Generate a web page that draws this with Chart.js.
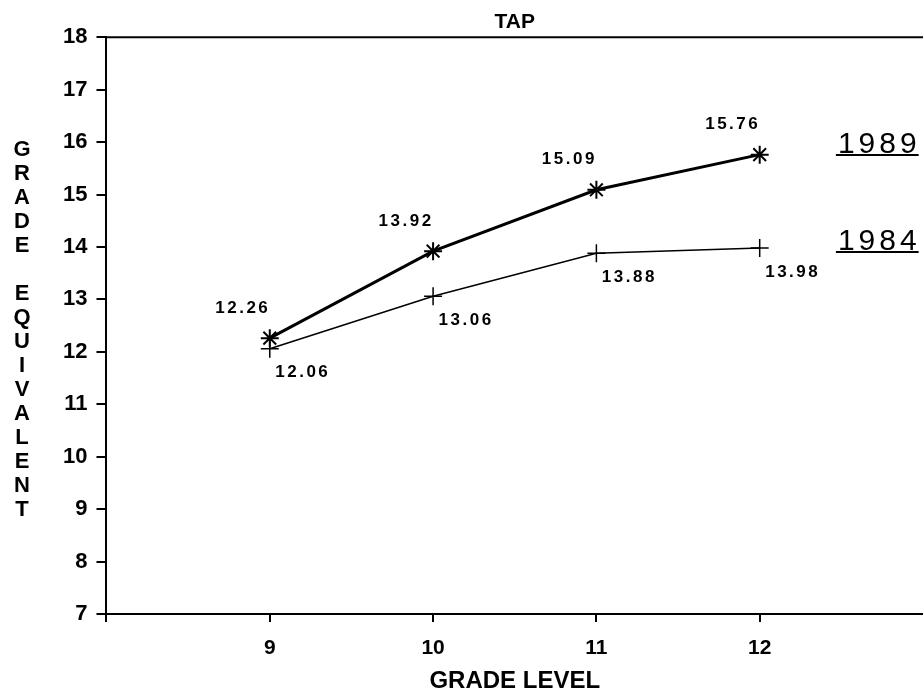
<!DOCTYPE html>
<html>
<head>
    <title>TAP</title>
    <meta charset="utf-8">
    <script src="https://cdn.jsdelivr.net/npm/chart.js@4/dist/chart.umd.min.js"></script>
    <style>
      body { margin: 0; background: #fff; overflow: hidden; }
      .chart-container { position: relative; width: 923px; height: 696px; }
    </style>
</head>
<body>
    <div class="chart-container">
        <canvas id="chart"></canvas>
    </div>

    <script>
        const grades = [9, 10, 11, 12];
        const axisTicks = [8, 9, 10, 11, 12];
        const scores1989 = [12.26, 13.92, 15.09, 15.76];
        const scores1984 = [12.06, 13.06, 13.88, 13.98];
        const yTitle = 'GRADE EQUIVALENT';

        const FONT = '"Liberation Sans", Arial, sans-serif';

        // value labels next to each point
        const pointLabels = {
            id: 'pointLabels',
            afterDatasetsDraw(chart) {
                const ctx = chart.ctx;
                ctx.save();
                ctx.fillStyle = '#000';
                ctx.font = 'bold 17px ' + FONT;
                ctx.letterSpacing = '2.5px';
                ctx.textAlign = 'center';
                ctx.textBaseline = 'middle';
                chart.data.datasets.forEach((ds, i) => {
                    const off = ds.labelOffset;
                    chart.getDatasetMeta(i).data.forEach((pt, j) => {
                        ctx.fillText(ds.data[j].y.toFixed(2), pt.x + off[0], pt.y + off[1]);
                    });
                });
                ctx.restore();
            }
        };

        // underlined series names at the right
        const sideLegend = {
            id: 'sideLegend',
            afterDraw(chart, args, opts) {
                const ctx = chart.ctx;
                const x = chart.scales.x.getPixelForValue(opts.at);
                ctx.save();
                ctx.fillStyle = '#000';
                ctx.strokeStyle = '#000';
                ctx.lineWidth = 2;
                ctx.font = '30px ' + FONT;
                ctx.letterSpacing = '4px';
                ctx.textAlign = 'center';
                ctx.textBaseline = 'alphabetic';
                chart.data.datasets.forEach((ds, i) => {
                    const y = chart.scales.y.getPixelForValue(opts.levels[i]);
                    ctx.fillText(ds.label, x + 2, y + 11);
                    const w = ctx.measureText(ds.label).width;
                    ctx.beginPath();
                    ctx.moveTo(x - w / 2, y + 13);
                    ctx.lineTo(x + w / 2, y + 13);
                    ctx.stroke();
                });
                ctx.restore();
            }
        };

        // stacked vertical y title and top frame line
        const frame = {
            id: 'frame',
            afterDraw(chart) {
                const ctx = chart.ctx;
                const area = chart.chartArea;
                ctx.save();
                ctx.strokeStyle = '#000';
                ctx.lineWidth = 2;
                ctx.beginPath();
                ctx.moveTo(area.left, area.top);
                ctx.lineTo(area.right, area.top);
                ctx.stroke();

                ctx.fillStyle = '#000';
                ctx.font = 'bold 22px ' + FONT;
                ctx.textAlign = 'center';
                ctx.textBaseline = 'middle';
                const step = 24;
                const mid = (area.top + area.bottom) / 2 + 4;
                const start = mid - step * (yTitle.length - 1) / 2;
                for (let i = 0; i < yTitle.length; i++) {
                    ctx.fillText(yTitle[i], 22, start + i * step);
                }
                ctx.restore();
            }
        };

        let ctx = document.getElementById('chart').getContext('2d');
        let chart = new Chart(ctx, {
            type: 'line',
            data: {
                datasets: [{
                    label: '1989',
                    data: grades.map((g, i) => ({x: g, y: scores1989[i]})),
                    borderColor: 'black',
                    backgroundColor: 'black',
                    borderWidth: 3,
                    pointStyle: 'star',
                    pointRadius: 9,
                    pointBorderWidth: 2,
                    labelOffset: [-27, -30],
                    tension: 0
                }, {
                    label: '1984',
                    data: grades.map((g, i) => ({x: g, y: scores1984[i]})),
                    borderColor: 'black',
                    backgroundColor: 'black',
                    borderWidth: 1.5,
                    pointStyle: 'cross',
                    pointRadius: 9,
                    pointBorderWidth: 1.5,
                    labelOffset: [33, 24],
                    tension: 0
                }]
            },
            options: {
                responsive: true,
                maintainAspectRatio: false,
                animation: false,
                layout: { autoPadding: false, padding: { left: 54, right: 0, top: 0, bottom: 0 } },
                plugins: {
                    legend: { display: false },
                    tooltip: { enabled: false },
                    title: {
                        display: true,
                        fullSize: false,
                        text: 'TAP',
                        color: '#000',
                        font: { family: FONT, size: 21, weight: 'bold' },
                        padding: { top: 10, bottom: 2 }
                    },
                    sideLegend: { at: 12.72, levels: [16.0, 14.15] }
                },
                scales: {
                    x: {
                        type: 'linear',
                        min: 8,
                        max: 13,
                        afterBuildTicks: scale => {
                            scale.ticks = axisTicks.map(v => ({value: v}));
                        },
                        afterFit: scale => {
                            scale.paddingLeft = 0;
                            scale.paddingRight = 0;
                        },
                        ticks: {
                            color: '#000',
                            padding: 14,
                            font: { family: FONT, size: 21, weight: 'bold' },
                            callback: v => grades.includes(v) ? String(v) : ''
                        },
                        grid: { drawOnChartArea: false, tickLength: 8, color: '#000', lineWidth: 2 },
                        border: { color: '#000', width: 2 },
                        title: {
                            display: true,
                            text: 'GRADE LEVEL',
                            color: '#000',
                            font: { family: FONT, size: 24, weight: 'bold' },
                            padding: { top: -8, bottom: 0 }
                        }
                    },
                    y: {
                        min: 7,
                        max: 18,
                        ticks: {
                            stepSize: 1,
                            color: '#000',
                            padding: 9,
                            font: { family: FONT, size: 22, weight: 'bold' }
                        },
                        grid: { drawOnChartArea: false, tickLength: 10, color: '#000', lineWidth: 2 },
                        border: { color: '#000', width: 2 }
                    }
                }
            },
            plugins: [pointLabels, sideLegend, frame]
        });
    </script>
</body>
</html>
